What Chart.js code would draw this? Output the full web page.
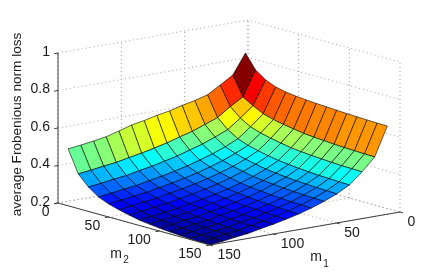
<!DOCTYPE html>
<html lang="en">
<head>
  <meta charset="UTF-8">
  <title>Frobenius norm loss surface</title>
  <script src="https://cdn.jsdelivr.net/npm/chart.js"></script>
  <style>
    html, body { margin: 0; padding: 0; background: #fff; }
    canvas { display: block; }
  </style>
</head>
<body>
  <canvas id="chart" width="443" height="277"></canvas>

  <script>
    const m1Values = [10, 20, 30, 40, 50, 60, 70, 80, 90, 100, 110, 120, 130, 140, 150];
    const m2Values = [10, 20, 30, 40, 50, 60, 70, 80, 90, 100, 110, 120, 130, 140, 150];
    const m1Ticks = [0, 50, 100, 150];
    const m2Ticks = [0, 50, 100, 150];
    const zTicks = [0.2, 0.4, 0.6, 0.8, 1];
    const zTickLabels = ['0.2', '0.4', '0.6', '0.8', '1'];

    // one row per m1, one column per m2
    const lossRows = [
      [.851, .775, .737, .714, .702, .695, .690, .686, .683, .680, .677, .675, .673, .671, .670],
      [.745, .643, .611, .583, .567, .556, .547, .538, .533, .529, .525, .522, .520, .518, .517],
      [.703, .603, .557, .525, .507, .494, .483, .473, .467, .462, .458, .455, .452, .451, .449],
      [.663, .556, .507, .473, .453, .439, .427, .417, .411, .405, .401, .397, .395, .393, .391],
      [.644, .531, .479, .442, .422, .406, .394, .383, .376, .370, .365, .362, .359, .357, .355],
      [.630, .506, .453, .416, .395, .379, .367, .355, .348, .343, .338, .334, .331, .329, .327],
      [.612, .488, .433, .395, .373, .357, .344, .332, .325, .319, .314, .310, .307, .305, .303],
      [.600, .468, .413, .375, .353, .337, .324, .312, .305, .299, .294, .290, .287, .285, .283],
      [.584, .452, .397, .359, .337, .321, .308, .296, .289, .283, .278, .274, .271, .269, .267],
      [.572, .437, .382, .344, .322, .306, .293, .281, .274, .268, .263, .259, .256, .254, .252],
      [.552, .425, .370, .332, .310, .294, .281, .269, .262, .256, .251, .247, .244, .242, .240],
      [.533, .411, .356, .318, .296, .280, .267, .255, .248, .242, .237, .233, .230, .228, .226],
      [.522, .403, .348, .310, .288, .272, .259, .247, .240, .234, .229, .225, .222, .220, .218],
      [.512, .393, .338, .300, .278, .262, .249, .237, .230, .224, .219, .215, .212, .210, .208],
      [.504, .385, .330, .292, .270, .254, .241, .229, .222, .216, .211, .207, .204, .202, .200]
    ];

    // fixed 3d view, the x/y scales below are just the view plane
    function project(m1, m2, z) {
      return {
        x: 248 - 190 * m1 / 150 + 152 * m2 / 150,
        y: 170 + 33 * m1 / 150 + 42 * m2 / 150 - (z - 0.2) * 187.5
      };
    }

    function clamp(v) {
      return Math.max(0, Math.min(1, v));
    }

    // matlab jet, 64 steps
    function jet(z) {
      const zMin = 0.2, zMax = 0.851;
      const idx = Math.min(63, Math.floor((z - zMin) / (zMax - zMin) * 64));
      const v = (idx + 0.5) / 64;
      const r = clamp(Math.min(4 * v - 1.5, -4 * v + 4.5));
      const g = clamp(Math.min(4 * v - 0.5, -4 * v + 3.5));
      const b = clamp(Math.min(4 * v + 0.5, -4 * v + 2.5));
      return `rgb(${Math.round(r * 255)},${Math.round(g * 255)},${Math.round(b * 255)})`;
    }

    function lineSet(points, color, dash, width) {
      return {
        data: points,
        showLine: true,
        fill: false,
        borderColor: color,
        borderDash: dash,
        borderWidth: width,
        pointRadius: 0,
        tension: 0
      };
    }

    const datasets = [];

    // solid axes with outward ticks go on top
    const axisColor = '#3c3c3c';
    datasets.push(lineSet([project(150, 0, 0.2), project(150, 0, 1)], axisColor, [], 1));
    datasets.push(lineSet([project(150, 0, 0.2), project(150, 150, 0.2)], axisColor, [], 1));
    datasets.push(lineSet([project(150, 150, 0.2), project(0, 150, 0.2)], axisColor, [], 1));
    zTicks.forEach(z => {
      datasets.push(lineSet([project(150, 0, z), project(153, 0, z)], axisColor, [], 1));
    });
    m2Ticks.forEach(m => {
      datasets.push(lineSet([project(150, m, 0.2), project(153, m, 0.2)], axisColor, [], 1));
    });
    m1Ticks.forEach(m => {
      datasets.push(lineSet([project(m, 150, 0.2), project(m, 153, 0.2)], axisColor, [], 1));
    });

    // surface cells, datasets paint last to first so the nearest cell comes first
    for (let i = m1Values.length - 2; i >= 0; i--) {
      for (let j = m2Values.length - 2; j >= 0; j--) {
        const corners = [
          project(m1Values[i], m2Values[j], lossRows[i][j]),
          project(m1Values[i + 1], m2Values[j], lossRows[i + 1][j]),
          project(m1Values[i + 1], m2Values[j + 1], lossRows[i + 1][j + 1]),
          project(m1Values[i], m2Values[j + 1], lossRows[i][j + 1])
        ];
        corners.push(corners[0]);
        datasets.push({
          data: corners,
          showLine: true,
          fill: 'shape',
          backgroundColor: jet(lossRows[i][j]),
          borderColor: 'rgba(0,0,0,0.85)',
          borderWidth: 0.7,
          pointRadius: 0,
          tension: 0
        });
      }
    }

    // dotted box grid behind everything
    const gridColor = '#a0a0a0';
    const dots = [1, 3];
    zTicks.forEach(z => {
      datasets.push(lineSet([project(150, 0, z), project(0, 0, z), project(0, 150, z)], gridColor, dots, 1));
    });
    m1Ticks.forEach(m => {
      datasets.push(lineSet([project(m, 0, 0.2), project(m, 0, 1)], gridColor, dots, 1));
      datasets.push(lineSet([project(m, 0, 0.2), project(m, 150, 0.2)], gridColor, dots, 1));
    });
    m2Ticks.forEach(m => {
      datasets.push(lineSet([project(0, m, 0.2), project(0, m, 1)], gridColor, dots, 1));
      datasets.push(lineSet([project(0, m, 0.2), project(150, m, 0.2)], gridColor, dots, 1));
    });

    const axisText = {
      id: 'axisText',
      afterDraw(chart) {
        const { ctx, scales } = chart;
        const px = p => ({ x: scales.x.getPixelForValue(p.x), y: scales.y.getPixelForValue(p.y) });
        ctx.save();
        ctx.fillStyle = '#1a1a1a';
        ctx.font = '14px "Liberation Sans", Arial, sans-serif';
        ctx.textBaseline = 'middle';

        ctx.textAlign = 'right';
        zTicks.forEach((z, i) => {
          const p = px(project(150, 0, z));
          ctx.fillText(zTickLabels[i], p.x - 8, p.y - 1);
        });
        m2Ticks.forEach(m => {
          const p = px(project(150, m, 0.2));
          ctx.fillText(String(m), p.x - 8.5, p.y + 9.5);
        });

        ctx.textAlign = 'left';
        m1Ticks.forEach(m => {
          const p = px(project(m, 150, 0.2));
          ctx.fillText(String(m), p.x + 7.5, p.y + 10);
        });

        // axis names
        ctx.textAlign = 'center';
        ctx.fillText('m', 116, 254);
        ctx.fillText('m', 316, 257);
        ctx.font = '10px "Liberation Sans", Arial, sans-serif';
        ctx.fillText('2', 126, 260);
        ctx.fillText('1', 326, 264);

        ctx.font = '13.6px "Liberation Sans", Arial, sans-serif';
        ctx.translate(17, 124.5);
        ctx.rotate(-Math.PI / 2);
        ctx.fillText('average Frobenious norm loss', 0, 0);
        ctx.restore();
      }
    };

    new Chart(document.getElementById('chart'), {
      type: 'scatter',
      data: { datasets: datasets },
      options: {
        responsive: false,
        animation: false,
        events: [],
        layout: { padding: 0 },
        plugins: { legend: { display: false }, tooltip: { enabled: false }, title: { display: false } },
        scales: {
          x: { type: 'linear', display: false, min: 0, max: 443 },
          y: { type: 'linear', display: false, min: 0, max: 277, reverse: true }
        }
      },
      plugins: [axisText]
    });
  </script>
</body>
</html>
